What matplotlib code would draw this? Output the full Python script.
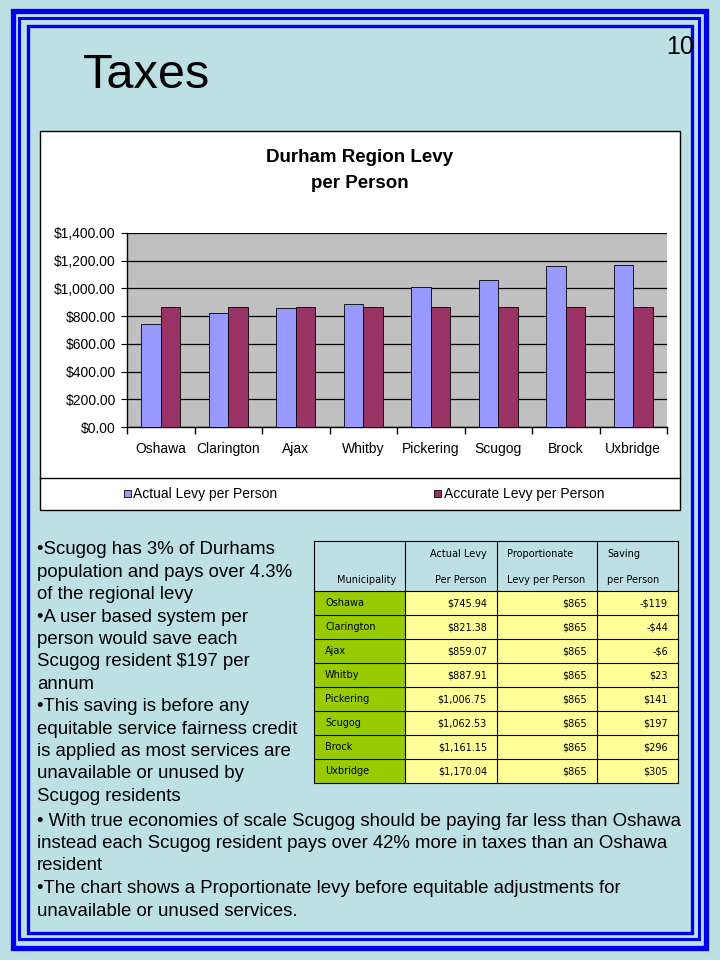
import matplotlib
matplotlib.use("Agg")
from matplotlib import pyplot as plt
from matplotlib.patches import Rectangle
from matplotlib.ticker import FuncFormatter, FixedLocator
import numpy as np

# data
municipalities = ["Oshawa", "Clarington", "Ajax", "Whitby", "Pickering", "Scugog", "Brock", "Uxbridge"]
actual_levy = [745.94, 821.38, 859.07, 887.91, 1006.75, 1062.53, 1161.15, 1170.04]
accurate_levy = [865, 865, 865, 865, 865, 865, 865, 865]
saving = [-119, -44, -6, 23, 141, 197, 296, 305]

actual_txt = ["$745.94", "$821.38", "$859.07", "$887.91", "$1,006.75", "$1,062.53", "$1,161.15", "$1,170.04"]
prop_txt = ["$865"] * 8
saving_txt = ["-$119", "-$44", "-$6", "$23", "$141", "$197", "$296", "$305"]

left_lines = ["\u2022Scugog has 3% of Durhams",
              "population and pays over 4.3%",
              "of the regional levy",
              "\u2022A user based system per",
              "person would save each",
              "Scugog resident $197 per",
              "annum",
              "\u2022This saving is before any",
              "equitable service fairness credit",
              "is applied as most services are",
              "unavailable or unused by",
              "Scugog residents"]
bottom_lines = ["\u2022 With true economies of scale Scugog should be paying far less than Oshawa",
                "instead each Scugog resident pays over 42% more in taxes than an Oshawa",
                "resident",
                "\u2022The chart shows a Proportionate levy before equitable adjustments for",
                "unavailable or unused services."]

BG = "#BCE0E4"
BLUE = "#0000EE"
C_ACT = "#9999FF"
C_ACC = "#993366"

plt.rcParams["font.family"] = ["Liberation Sans", "DejaVu Sans"]

fig = plt.figure(figsize=(7.2, 9.6), dpi=100)
fig.patch.set_facecolor(BG)

# pixel-space overlay for slide decorations
bg = fig.add_axes([0, 0, 1, 1], zorder=0)
bg.set_xlim(0, 720)
bg.set_ylim(960, 0)
bg.axis("off")

# triple blue frame
bg.add_patch(Rectangle((12.5, 11), 693, 936.5, fill=False, ec=BLUE, lw=3.8))
bg.add_patch(Rectangle((18.5, 17.5), 680, 921, fill=False, ec=BLUE, lw=2.2))
bg.add_patch(Rectangle((27.5, 25.5), 664, 907.5, fill=False, ec=BLUE, lw=2.4))

bg.text(83, 76, "Taxes", fontsize=35, va="center", ha="left")
bg.text(694, 47, "10", fontsize=18, va="center", ha="right")

# chart box + legend box
bg.add_patch(Rectangle((40, 131), 640, 379, fc="white", ec="black", lw=1))
bg.plot([40, 680], [478, 478], color="black", lw=1)
bg.text(360, 157, "Durham Region Levy", fontsize=13.5, fontweight="bold", ha="center", va="center")
bg.text(360, 183, "per Person", fontsize=13.5, fontweight="bold", ha="center", va="center")

bg.add_patch(Rectangle((124, 490), 7, 7, fc=C_ACT, ec="black", lw=0.6))
bg.text(133, 494, "Actual Levy per Person", fontsize=10, va="center", ha="left")
bg.add_patch(Rectangle((434, 490), 7, 7, fc=C_ACC, ec="black", lw=0.6))
bg.text(444, 494, "Accurate Levy per Person", fontsize=10, va="center", ha="left")

# bar chart
ax = fig.add_axes([127 / 720, 1 - 427 / 960, 540 / 720, 194 / 960], zorder=2)
ax.set_facecolor("#C0C0C0")
x = np.arange(len(municipalities))
w = 0.29
ax.bar(x - w / 2, actual_levy, w, color=C_ACT, edgecolor="black", lw=0.6, zorder=3)
ax.bar(x + w / 2, accurate_levy, w, color=C_ACC, edgecolor="black", lw=0.6, zorder=3)
ax.set_xlim(-0.5, len(municipalities) - 0.5)
ax.set_ylim(0, 1400)
ax.set_yticks(np.arange(0, 1401, 200))
ax.yaxis.set_major_formatter(FuncFormatter(lambda v, p: "${:,.2f}".format(v)))
ax.grid(axis="y", color="black", lw=0.9, zorder=1)
ax.set_xticks(x)
ax.set_xticklabels(municipalities)
ax.xaxis.set_minor_locator(FixedLocator(np.arange(-0.5, len(municipalities), 1.0)))
ax.tick_params(axis="x", which="major", length=0, pad=11, labelsize=10)
ax.tick_params(axis="x", which="minor", length=5, direction="out", width=1)
ax.tick_params(axis="y", length=4, direction="out", pad=4, labelsize=10)
for s in ["top", "right"]:
    ax.spines[s].set_visible(False)
ax.spines["left"].set_linewidth(1)
ax.spines["bottom"].set_linewidth(1)

# table
col_x = [314, 405, 497, 597, 678]
row_y = [541, 591] + [591 + 24 * (i + 1) for i in range(8)]
row_y[-1] = 783
bg.add_patch(Rectangle((col_x[0], row_y[0]), col_x[-1] - col_x[0], row_y[1] - row_y[0], fc=BG, ec="none"))
for i in range(8):
    y0, y1 = row_y[i + 1], row_y[i + 2]
    bg.add_patch(Rectangle((col_x[0], y0), col_x[1] - col_x[0], y1 - y0, fc="#99CC00", ec="none"))
    bg.add_patch(Rectangle((col_x[1], y0), col_x[-1] - col_x[1], y1 - y0, fc="#FFFF99", ec="none"))
for cx in col_x:
    bg.plot([cx, cx], [row_y[0], row_y[-1]], color="black", lw=0.8)
for ry in row_y:
    bg.plot([col_x[0], col_x[-1]], [ry, ry], color="black", lw=0.8)

tf = dict(fontsize=7, family="DejaVu Sans", va="center")
bg.text(337, 580, "Municipality", ha="left", **tf)
bg.text(487, 554, "Actual Levy", ha="right", **tf)
bg.text(487, 580, "Per Person", ha="right", **tf)
bg.text(507, 554, "Proportionate", ha="left", **tf)
bg.text(507, 580, "Levy per Person", ha="left", **tf)
bg.text(607, 554, "Saving", ha="left", **tf)
bg.text(607, 580, "per Person", ha="left", **tf)
for i in range(8):
    yc = (row_y[i + 1] + row_y[i + 2]) / 2
    bg.text(325, yc, municipalities[i], ha="left", **tf)
    bg.text(487, yc, actual_txt[i], ha="right", **tf)
    bg.text(587, yc, prop_txt[i], ha="right", **tf)
    bg.text(668, yc, saving_txt[i], ha="right", **tf)

# bullet text
for i, line in enumerate(left_lines):
    bg.text(37, 550 + 22.4 * i, line, fontsize=13.4, va="center", ha="left")
for i, line in enumerate(bottom_lines):
    bg.text(37, 821 + 22.5 * i, line, fontsize=13.4, va="center", ha="left")

fig.savefig("out.png", dpi=100, facecolor=BG)
